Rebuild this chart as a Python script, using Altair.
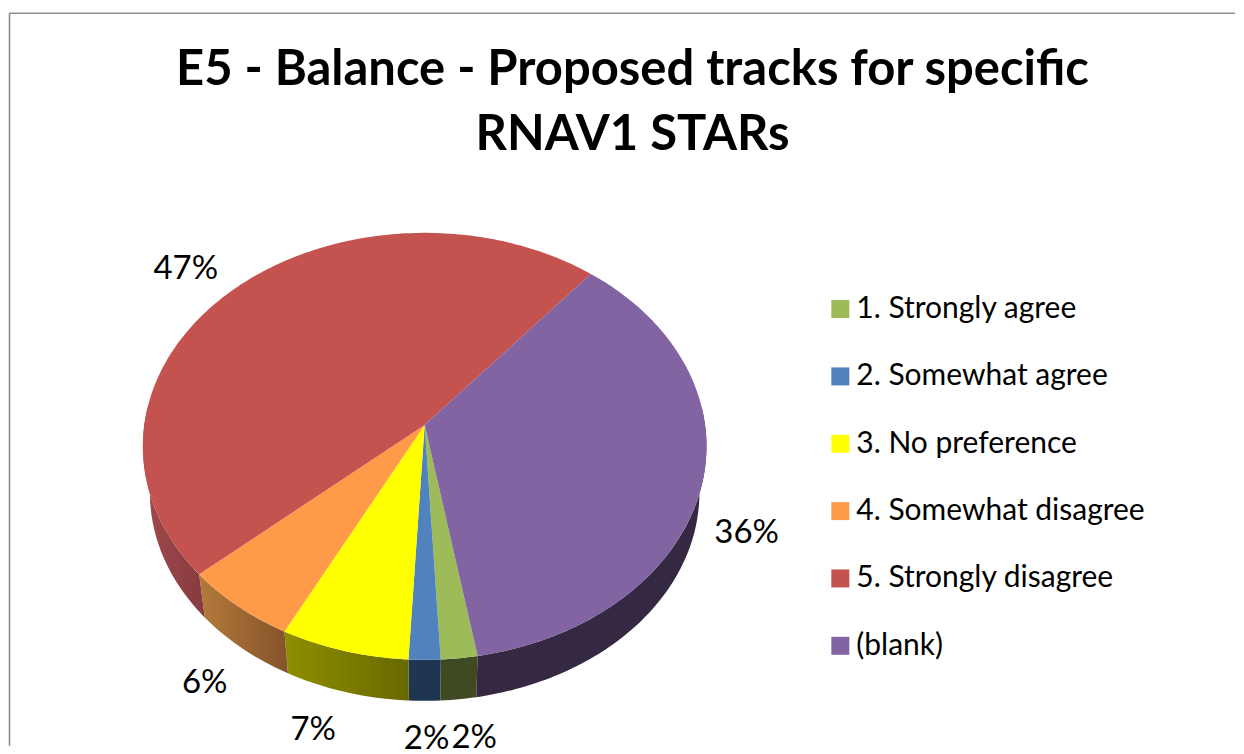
import math
import altair as alt
import pandas as pd

categories = ["1. Strongly agree", "2. Somewhat agree", "3. No preference",
              "4. Somewhat disagree", "5. Strongly disagree", "(blank)"]
shares = [1.9, 1.65, 6.7, 6.0, 47.49, 36.26]
top_colors = ["#9DBB59", "#5082BE", "#FFFF00", "#FF9B48", "#C4524F", "#8264A3"]
wall_left = ["#3F4A22", "#1F3650", "#8F8F00", "#B37A3A", "#A04A4C", "#352842"]
wall_right = ["#3F4A22", "#1F3650", "#686800", "#85532A", "#873A40", "#352842"]
label_dx = [15, 2, -31, -33, -51, 44]
label_dy = [80, 79, 79, 77, -18, 52]
title_lines = ["E5 - Balance - Proposed tracks for specific", "RNAV1 STARs"]

START_ANGLE = 170.2
CX, CY = 425, 425
A, B, K = 280.6, 211.5, 0.1
DEPTH, SHRINK = 47, 0.975
W, H = 1228, 738


def project(deg):
    u = math.sin(math.radians(deg))
    v = math.cos(math.radians(deg))
    d = 1 + K * v
    return CX + A * u / d, CY - B * v / d


def bottom(deg):
    x, y = project(deg)
    return CX + SHRINK * (x - CX), CY + DEPTH + SHRINK * (y - CY)


def arc(a0, a1):
    n = max(2, int(abs(a1 - a0)) + 2)
    return [a0 + (a1 - a0) * i / (n - 1) for i in range(n)]


top_rows, wall_rows, label_rows = [], [], []
ang = START_ANGLE
for i, cat in enumerate(categories):
    sweep = shares[i] * 3.6
    a0, a1 = ang, ang + sweep
    ang = a1
    pts = [(CX, CY)] + [project(a) for a in arc(a0, a1)] + [(CX, CY)]
    for j, (x, y) in enumerate(pts):
        top_rows.append({"cat": cat, "x": x, "y": y, "i": j})
    # front-facing side wall
    span = None
    for lap in (0, 360, -360):
        s, e = max(a0 + lap, 85), min(a1 + lap, 275)
        if e > s:
            span = (s, e)
    if span:
        lo, hi = span
        ring = [project(a) for a in arc(lo, hi)] + [bottom(a) for a in arc(hi, lo)]
        ring.append(ring[0])
        for j, (x, y) in enumerate(ring):
            wall_rows.append({"cat": cat, "x": x, "y": y, "i": j})
    mx, my = project((a0 + a1) / 2)
    label_rows.append({"x": mx + label_dx[i], "y": my + label_dy[i],
                       "text": f"{round(shares[i])}%"})

top_df = pd.DataFrame(top_rows)
wall_df = pd.DataFrame(wall_rows)
label_df = pd.DataFrame(label_rows)

x_enc = alt.X("x:Q", axis=None, scale=alt.Scale(domain=[8, 8 + W], nice=False, zero=False))
y_enc = alt.Y("y:Q", axis=None, scale=alt.Scale(domain=[8 + H, 8], nice=False, zero=False))

walls = []
for i, cat in enumerate(categories):
    sub = wall_df[wall_df["cat"] == cat]
    if sub.empty:
        continue
    grad = alt.Gradient(gradient="linear", x1=0, x2=1, y1=0, y2=0,
                        stops=[alt.GradientStop(color=wall_left[i], offset=0),
                               alt.GradientStop(color=wall_right[i], offset=1)])
    walls.append(alt.Chart(sub).mark_line(fill=grad, strokeWidth=0, strokeOpacity=0).encode(
        x=x_enc, y=y_enc, order=alt.Order("i:Q")))

tops = alt.Chart(top_df).mark_line(filled=True, strokeWidth=0).encode(
    x=x_enc, y=y_enc, order=alt.Order("i:Q"),
    color=alt.Color("cat:N", scale=alt.Scale(domain=categories, range=top_colors),
                    sort=categories,
                    legend=alt.Legend(title=None, orient="none", legendX=818, legendY=286,
                                      symbolType="square", symbolSize=324, symbolStrokeWidth=0,
                                      symbolOpacity=1,
                                      labelFont="Lato", labelFontSize=30, labelColor="#000000",
                                      labelOffset=1, rowPadding=37.4, labelLimit=400)),
)

labels = alt.Chart(label_df).mark_text(font="Lato", fontSize=33, color="#000000",
                                       align="center", baseline="middle").encode(
    x=x_enc, y=y_enc, text="text:N")

frame_left = alt.Chart(pd.DataFrame({"a": [0]})).mark_rule(color="#8E8E8E", strokeWidth=1.6).encode(
    x=alt.value(1.5), y=alt.value(5), y2=alt.value(H))
frame_top = alt.Chart(pd.DataFrame({"a": [0]})).mark_rule(color="#8E8E8E", strokeWidth=1.6).encode(
    y=alt.value(5), x=alt.value(1.5), x2=alt.value(W))

chart = alt.layer(frame_left, frame_top, *walls, tops, labels).properties(
    width=W, height=H, padding=0, background="white",
    title=alt.TitleParams(text=title_lines, font="Lato", fontSize=49, fontWeight="bold",
                          color="#000000", anchor="start", align="center", dx=625,
                          lineHeight=65, offset=-152, frame="group"),
).configure_view(stroke=None)

chart.save("out.html", embed_options={"renderer": "svg", "actions": False})
